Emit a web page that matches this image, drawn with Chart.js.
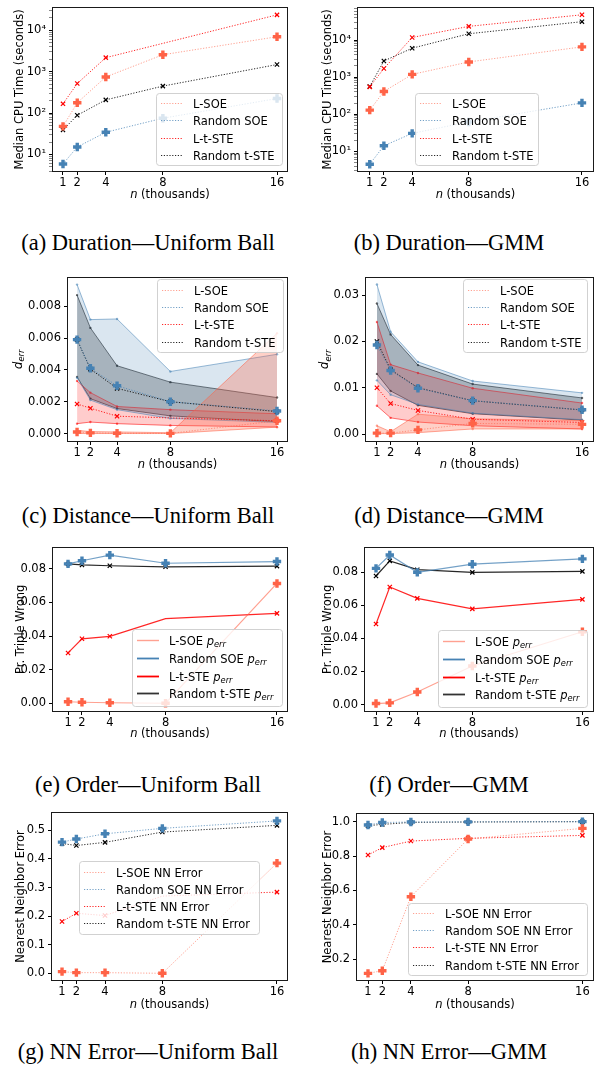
<!DOCTYPE html>
<html>
<head>
<meta charset="utf-8">
<script src="https://cdn.jsdelivr.net/npm/chart.js@4.4.0/dist/chart.umd.min.js"></script>
<style>
body{margin:0;background:#fff;width:602px;height:1066px;position:relative;overflow:hidden}
canvas{position:absolute}
.cap{position:absolute;width:300px;text-align:center;font:22.5px "Liberation Serif";line-height:1;color:#000;white-space:nowrap}
</style>
</head>
<body>
<canvas id="pa" width="300" height="210" style="left:0;top:0"></canvas>
<canvas id="pb" width="302" height="210" style="left:300px;top:0"></canvas>
<canvas id="pc" width="300" height="210" style="left:0;top:270px"></canvas>
<canvas id="pd" width="302" height="210" style="left:300px;top:270px"></canvas>
<canvas id="pe" width="300" height="210" style="left:0;top:540px"></canvas>
<canvas id="pf" width="302" height="210" style="left:300px;top:540px"></canvas>
<canvas id="pg" width="300" height="215" style="left:0;top:800px"></canvas>
<canvas id="ph" width="302" height="215" style="left:300px;top:800px"></canvas>
<div class="cap" style="left:-2px;top:232px">(a) Duration—Uniform Ball</div>
<div class="cap" style="left:299px;top:232px">(b) Duration—GMM</div>
<div class="cap" style="left:-2px;top:505px">(c) Distance—Uniform Ball</div>
<div class="cap" style="left:299px;top:505px">(d) Distance—GMM</div>
<div class="cap" style="left:-2px;top:774px">(e) Order—Uniform Ball</div>
<div class="cap" style="left:299px;top:774px">(f) Order—GMM</div>
<div class="cap" style="left:-2px;top:1041px">(g) NN Error—Uniform Ball</div>
<div class="cap" style="left:299px;top:1041px">(h) NN Error—GMM</div>
<script>
// n in thousands
const nThousands = [1, 2, 4, 8, 16];

// (a)/(b) median CPU time (seconds)
const durUniLSOE  = [47.7, 177, 743, 2550, 6940];
const durUniRSOE  = [5.9, 15.2, 34.4, 75, 224];
const durUniLTSTE = [167, 516, 2170, 4800, 23400];
const durUniRTSTE = [39, 88.5, 208, 447, 1480];
const durGmmLSOE  = [129, 412, 1186, 2570, 6550];
const durGmmRSOE  = [4.5, 14.1, 30.5, 62, 202];
const durGmmLTSTE = [548, 1710, 11750, 23400, 48000];
const durGmmRTSTE = [560, 2730, 6030, 14800, 31300];

// (c) d_err, uniform ball: median / lower / upper
const distUniLSOE   = [0.0001, 0.00004, 0.00002, 0.00001, 0.0008];
const distUniLSOElo = [0, 0, 0, 0, 0.0004];
const distUniLSOEhi = [0.0002, 0.00012, 0.0001, 0.00005, 0.0063];
const distUniRSOE   = [0.0059, 0.0041, 0.0030, 0.0020, 0.00142];
const distUniRSOElo = [0.0035, 0.0021, 0.0015, 0.00095, 0.0007];
const distUniRSOEhi = [0.00936, 0.00716, 0.0072, 0.0039, 0.00498];
const distUniLTSTE   = [0.00186, 0.00159, 0.00109, 0.00098, 0.0008];
const distUniLTSTElo = [0.00062, 0.00072, 0.00062, 0.00051, 0.00041];
const distUniLTSTEhi = [0.0033, 0.00257, 0.0017, 0.0015, 0.00124];
const distUniRTSTE   = [0.0059, 0.00405, 0.00284, 0.0020, 0.00138];
const distUniRTSTElo = [0.00356, 0.00219, 0.00157, 0.00111, 0.00074];
const distUniRTSTEhi = [0.0087, 0.00664, 0.00426, 0.00323, 0.00226];

// (d) d_err, GMM
const distGmmLSOE   = [0.0002, 0.0002, 0.0009, 0.0023, 0.0021];
const distGmmLSOElo = [0.0001, 0.0001, 0.0003, 0.0011, 0.0011];
const distGmmLSOEhi = [0.0018, 0.0005, 0.0043, 0.0033, 0.0029];
const distGmmRSOE   = [0.01925, 0.01373, 0.0099, 0.00722, 0.00524];
const distGmmRSOElo = [0.0116, 0.0085, 0.0064, 0.0045, 0.0031];
const distGmmRSOEhi = [0.0323, 0.0221, 0.0156, 0.01146, 0.0089];
const distGmmLTSTE   = [0.0100, 0.0066, 0.0051, 0.0032, 0.0025];
const distGmmLTSTElo = [0.0061, 0.0035, 0.0026, 0.0018, 0.0011];
const distGmmLTSTEhi = [0.0242, 0.0150, 0.0132, 0.0099, 0.0067];
const distGmmRTSTE   = [0.0200, 0.0139, 0.0100, 0.0072, 0.0052];
const distGmmRTSTElo = [0.0130, 0.0093, 0.0062, 0.0044, 0.0030];
const distGmmRTSTEhi = [0.0282, 0.0215, 0.0149, 0.0108, 0.0078];

// (e)/(f) probability a triple is wrong
const ordUniLSOE  = [0.0010, 0.0007, 0.0004, 0.0001, 0.0713];
const ordUniRSOE  = [0.0829, 0.0848, 0.0881, 0.0833, 0.0843];
const ordUniLTSTE = [0.0300, 0.0384, 0.0399, 0.0504, 0.0535];
const ordUniRTSTE = [0.0829, 0.0823, 0.0818, 0.0812, 0.0816];
const ordGmmLSOE  = [0.0008, 0.0012, 0.0077, 0.0234, 0.0440];
const ordGmmRSOE  = [0.0822, 0.0902, 0.0798, 0.0847, 0.0879];
const ordGmmLTSTE = [0.0487, 0.0710, 0.0641, 0.0578, 0.0635];
const ordGmmRTSTE = [0.0776, 0.0867, 0.0814, 0.0798, 0.0804];

// (g)/(h) nearest neighbour error
const nnUniLSOE  = [0.0058, 0.0023, 0.0023, 0.0, 0.3855];
const nnUniRSOE  = [0.459, 0.4696, 0.488, 0.507, 0.533];
const nnUniLTSTE = [0.181, 0.210, 0.202, 0.27, 0.284];
const nnUniRTSTE = [0.454, 0.447, 0.458, 0.494, 0.5175];
const nnGmmLSOE  = [0.1165, 0.132, 0.563, 0.899, 0.961];
const nnGmmRSOE  = [0.981, 0.995, 0.998, 0.999, 1.0];
const nnGmmLTSTE = [0.806, 0.849, 0.887, 0.903, 0.920];
const nnGmmRTSTE = [0.977, 0.984, 0.996, 0.998, 1.0];

// tick labels
const xTicks = [1, 2, 4, 8, 16];
const logMajor = [10, 100, 1000, 10000];
const distUniTicks = [0, 0.002, 0.004, 0.006, 0.008];
const distGmmTicks = [0, 0.01, 0.02, 0.03];
const ordTicks = [0, 0.02, 0.04, 0.06, 0.08];
const nnUniTicks = [0, 0.1, 0.2, 0.3, 0.4, 0.5];
const nnGmmTicks = [0.2, 0.4, 0.6, 0.8, 1.0];

const FONT = 'DejaVu Sans';
const STY = {
  lsoe:  {color: '#ff6347', rgb: '255,99,71',  line: 'rgba(255,99,71,0.6)',  p: true},
  rsoe:  {color: '#4682b4', rgb: '70,130,180', line: 'rgba(70,130,180,0.75)', p: true},
  ltste: {color: '#ff0000', rgb: '255,0,0',    line: 'rgba(255,0,0,0.85)',   p: false},
  rtste: {color: '#000000', rgb: '0,0,0',      line: 'rgba(0,0,0,0.85)',     p: false},
};
const DOT = [1.2, 1.6];
const SUP = {1: '¹', 2: '²', 3: '³', 4: '⁴'};

function pts(ys) { return ys.map((y, i) => ({x: nThousands[i], y})); }

function med(ys, key, dotted, hide8) {
  const s = STY[key];
  const r = s.p ? 4.2 : 3;
  return {
    data: pts(ys), order: 0, fill: false, tension: 0,
    borderColor: s.line, borderWidth: dotted ? 1 : 1.2, borderDash: dotted ? DOT : [],
    pointStyle: s.p ? 'cross' : 'crossRot',
    pointRadius: hide8 ? ys.map((_, i) => i === 3 ? 0 : r) : r,
    pointBorderWidth: s.p ? 3.4 : 1.2,
    pointBorderColor: s.color, pointBackgroundColor: s.color
  };
}

function band(lo, hi, key, a) {
  const s = STY[key];
  const edge = {
    order: 1, tension: 0, borderWidth: 1, borderColor: 'rgba(' + s.rgb + ',0.55)',
    pointStyle: 'circle', pointRadius: 1.2, pointBorderWidth: 0,
    pointBackgroundColor: 'rgba(' + s.rgb + ',0.6)'
  };
  return [
    Object.assign({data: pts(lo), fill: false}, edge),
    Object.assign({data: pts(hi), fill: '-1', backgroundColor: 'rgba(' + s.rgb + ',' + a + ')'}, edge)
  ];
}

function logTicks(min, max) {
  const t = [];
  [1, 10, 100, 1000, 10000].forEach(d => {
    for (let m = 1; m < 10; m++) {
      const v = d * m;
      if (v >= min && v <= max) t.push({value: v, major: logMajor.includes(v)});
    }
  });
  return t;
}

function segFont(s, size) {
  return (s.it ? 'italic ' : '') + (s.sub ? size * 0.72 : size) + 'px "' + FONT + '"';
}
function drawRich(ctx, segs, x, y, size, center) {
  if (typeof segs === 'string') segs = [{t: segs}];
  let w = 0;
  segs.forEach(s => { ctx.font = segFont(s, size); w += ctx.measureText(s.t).width; });
  let cx = center ? x - w / 2 : x;
  const base = y + size * 0.36;
  ctx.fillStyle = '#000';
  ctx.textAlign = 'left';
  ctx.textBaseline = 'alphabetic';
  segs.forEach(s => {
    ctx.font = segFont(s, size);
    ctx.fillText(s.t, cx, base + (s.sub ? size * 0.22 : 0));
    cx += ctx.measureText(s.t).width;
  });
}

function deco(o) {
  return {
    id: 'deco',
    afterDraw(chart) {
      const ctx = chart.ctx, a = chart.chartArea, L = o.legend;
      ctx.save();
      // legend box
      const r = 3, x = L.x + 0.5, y = L.y + 0.5, w = L.w, h = L.h;
      ctx.beginPath();
      ctx.moveTo(x + r, y); ctx.arcTo(x + w, y, x + w, y + h, r); ctx.arcTo(x + w, y + h, x, y + h, r);
      ctx.arcTo(x, y + h, x, y, r); ctx.arcTo(x, y, x + w, y, r); ctx.closePath();
      ctx.fillStyle = 'rgba(255,255,255,0.8)'; ctx.fill();
      ctx.strokeStyle = 'rgba(204,204,204,0.9)'; ctx.lineWidth = 1; ctx.stroke();
      L.items.forEach((it, i) => {
        const yy = Math.round(L.y + L.r0 + i * L.dy) + 0.5;
        ctx.beginPath();
        ctx.setLineDash(it.dash ? DOT : []);
        ctx.strokeStyle = it.color; ctx.lineWidth = it.w || 1;
        ctx.moveTo(L.x + 5, yy); ctx.lineTo(L.x + 27, yy); ctx.stroke();
        ctx.setLineDash([]);
        drawRich(ctx, it.label, L.x + 37, yy, 11.5, false);
      });
      // frame
      ctx.strokeStyle = '#1a1a1a'; ctx.lineWidth = 1;
      ctx.strokeRect(Math.round(a.left) - 0.5, Math.round(a.top) - 0.5,
        Math.round(a.right - a.left) + 1, Math.round(a.bottom - a.top) + 1);
      // axis titles
      drawRich(ctx, [{t: 'n', it: true}, {t: ' (thousands)'}], (a.left + a.right) / 2, o.xTitleY, 11.5, true);
      ctx.translate(o.yTitleX, (a.top + a.bottom) / 2);
      ctx.rotate(-Math.PI / 2);
      drawRich(ctx, o.yTitle, 0, 0, 11.5, true);
      ctx.restore();
    }
  };
}

function panel(id, o) {
  const tickFont = {family: FONT, size: 11.5};
  const grid = {
    drawOnChartArea: false, drawTicks: true, tickLength: 4,
    tickColor: c => (c.tick && c.tick.major === false) ? '#555' : '#000',
    tickWidth: c => (c.tick && c.tick.major === false) ? 0.7 : 1
  };
  const noPad = s => { s.paddingTop = 0; s.paddingBottom = 0; s.paddingLeft = 0; s.paddingRight = 0; };
  return new Chart(document.getElementById(id), {
    type: 'line',
    data: {datasets: o.datasets},
    options: {
      responsive: false, animation: false, devicePixelRatio: 1,
      layout: {padding: {left: 0, right: o.padR, top: o.padT, bottom: 0}},
      plugins: {legend: {display: false}, tooltip: {enabled: false}},
      scales: {
        x: {
          type: 'linear', min: o.xmin, max: o.xmax,
          afterBuildTicks: s => { s.ticks = xTicks.map(v => ({value: v, major: true})); },
          afterFit: s => { s.height = o.xh; noPad(s); },
          grid: grid, border: {display: false},
          ticks: {font: tickFont, color: '#000', padding: 1, autoSkip: false, maxRotation: 0,
                  callback: v => String(v)}
        },
        y: {
          type: o.log ? 'logarithmic' : 'linear', min: o.ymin, max: o.ymax,
          afterBuildTicks: s => {
            s.ticks = o.log ? logTicks(o.ymin, o.ymax) : o.yTicks.map(v => ({value: v, major: true}));
          },
          afterFit: s => { s.width = o.yw; noPad(s); },
          grid: grid, border: {display: false},
          ticks: {
            font: tickFont, color: '#000', padding: 3, autoSkip: false,
            callback: (v, i, t) => {
              if (o.log) return t[i].major ? '10' + SUP[Math.round(Math.log10(v))] : '';
              return v.toFixed(o.dec);
            }
          }
        }
      }
    },
    plugins: [deco(o)]
  });
}

const dotLegend = (suffix) => [
  {label: 'L-SOE' + suffix, color: STY.lsoe.line, dash: true},
  {label: 'Random SOE' + suffix, color: STY.rsoe.line, dash: true},
  {label: 'L-t-STE' + suffix, color: STY.ltste.line, dash: true},
  {label: 'Random t-STE' + suffix, color: STY.rtste.line, dash: true}
];
const perr = [{t: 'p', it: true}, {t: 'err', it: true, sub: true}];
const ordLegend = [
  {label: [{t: 'L-SOE '}].concat(perr), color: STY.lsoe.line, w: 1.4},
  {label: [{t: 'Random SOE '}].concat(perr), color: STY.rsoe.color, w: 1.8},
  {label: [{t: 'L-t-STE '}].concat(perr), color: STY.ltste.color, w: 1.8},
  {label: [{t: 'Random t-STE '}].concat(perr), color: '#333', w: 1.8}
];
const derr = [{t: 'd', it: true}, {t: 'err', it: true, sub: true}];

panel('pa', {
  log: true, ymin: 4.0, ymax: 35000, xmin: 0.30, xmax: 16.70,
  yw: 53, padR: 13, padT: 5, xh: 39, xTitleY: 194, yTitleX: 19,
  yTitle: 'Median CPU Time (seconds)',
  legend: {x: 156, y: 93, w: 126, h: 72, r0: 10, dy: 17.4, items: dotLegend('')},
  datasets: [
    med(durUniLSOE, 'lsoe', true), med(durUniRSOE, 'rsoe', true),
    med(durUniLTSTE, 'ltste', true, true), med(durUniRTSTE, 'rtste', true)
  ]
});

panel('pb', {
  log: true, ymin: 2.95, ymax: 75000, xmin: 0.17, xmax: 16.78,
  yw: 58, padR: 9, padT: 5, xh: 39, xTitleY: 194, yTitleX: 27,
  yTitle: 'Median CPU Time (seconds)',
  legend: {x: 115, y: 93, w: 123, h: 72, r0: 10, dy: 17.4, items: dotLegend('')},
  datasets: [
    med(durGmmLSOE, 'lsoe', true), med(durGmmRSOE, 'rsoe', true),
    med(durGmmLTSTE, 'ltste', true), med(durGmmRTSTE, 'rtste', true)
  ]
});

panel('pc', {
  ymin: -0.00047, ymax: 0.0098, yTicks: distUniTicks, dec: 3, xmin: 0.32, xmax: 16.75,
  yw: 68, padR: 13, padT: 5, xh: 39, xTitleY: 194, yTitleX: 17.5, yTitle: derr,
  legend: {x: 157, y: 9, w: 126, h: 73, r0: 11, dy: 17.2, items: dotLegend('')},
  datasets: [
    med(distUniLSOE, 'lsoe', true), med(distUniRSOE, 'rsoe', true),
    med(distUniLTSTE, 'ltste', true, true), med(distUniRTSTE, 'rtste', true)
  ].concat(
    band(distUniLSOElo, distUniLSOEhi, 'lsoe', 0.3),
    band(distUniRSOElo, distUniRSOEhi, 'rsoe', 0.2),
    band(distUniLTSTElo, distUniLTSTEhi, 'ltste', 0.2),
    band(distUniRTSTElo, distUniRTSTEhi, 'rtste', 0.25)
  )
});

panel('pd', {
  ymin: -0.0015, ymax: 0.0338, yTicks: distGmmTicks, dec: 2, xmin: 0.2, xmax: 16.8,
  yw: 66, padR: 9, padT: 5, xh: 39, xTitleY: 194, yTitleX: 24, yTitle: derr,
  legend: {x: 163, y: 9, w: 124, h: 73, r0: 11, dy: 17.2, items: dotLegend('')},
  datasets: [
    med(distGmmLSOE, 'lsoe', true), med(distGmmRSOE, 'rsoe', true),
    med(distGmmLTSTE, 'ltste', true), med(distGmmRTSTE, 'rtste', true)
  ].concat(
    band(distGmmLSOElo, distGmmLSOEhi, 'lsoe', 0.3),
    band(distGmmRSOElo, distGmmRSOEhi, 'rsoe', 0.2),
    band(distGmmLTSTElo, distGmmLTSTEhi, 'ltste', 0.2),
    band(distGmmRTSTElo, distGmmRTSTEhi, 'rtste', 0.25)
  )
});

panel('pe', {
  ymin: -0.0045, ymax: 0.0926, yTicks: ordTicks, dec: 2, xmin: -0.08, xmax: 16.72,
  yw: 53, padR: 13, padT: 4, xh: 39, xTitleY: 193, yTitleX: 20, yTitle: 'Pr. Triple Wrong',
  legend: {x: 132, y: 89, w: 150, h: 77, r0: 11, dy: 17.8, items: ordLegend},
  datasets: [
    med(ordUniLSOE, 'lsoe', false), med(ordUniRSOE, 'rsoe', false),
    med(ordUniLTSTE, 'ltste', false, true), med(ordUniRTSTE, 'rtste', false)
  ]
});

panel('pf', {
  ymin: -0.0037, ymax: 0.0947, yTicks: ordTicks, dec: 2, xmin: 0.2, xmax: 16.77,
  yw: 65, padR: 9, padT: 4, xh: 39, xTitleY: 193, yTitleX: 27, yTitle: 'Pr. Triple Wrong',
  legend: {x: 138, y: 90, w: 149, h: 77, r0: 11, dy: 17.8, items: ordLegend},
  datasets: [
    med(ordGmmLSOE, 'lsoe', false), med(ordGmmRSOE, 'rsoe', false),
    med(ordGmmLTSTE, 'ltste', false), med(ordGmmRTSTE, 'rtste', false)
  ]
});

panel('pg', {
  ymin: -0.0234, ymax: 0.5607, yTicks: nnUniTicks, dec: 1, xmin: 0.30, xmax: 16.7,
  yw: 52, padR: 13, padT: 13, xh: 35, xTitleY: 204, yTitleX: 20, yTitle: 'Nearest Neighbor Error',
  legend: {x: 79, y: 61, w: 180, h: 73, r0: 10.5, dy: 17.2, items: dotLegend(' NN Error')},
  datasets: [
    med(nnUniLSOE, 'lsoe', true), med(nnUniRSOE, 'rsoe', true),
    med(nnUniLTSTE, 'ltste', true, true), med(nnUniRTSTE, 'rtste', true)
  ]
});

panel('ph', {
  ymin: 0.0777, ymax: 1.0447, yTicks: nnGmmTicks, dec: 1, xmin: 0.23, xmax: 16.74,
  yw: 57, padR: 9, padT: 14, xh: 35, xTitleY: 204, yTitleX: 27, yTitle: 'Nearest Neighbor Error',
  legend: {x: 108, y: 103, w: 179, h: 72, r0: 10, dy: 17.2, items: dotLegend(' NN Error')},
  datasets: [
    med(nnGmmLSOE, 'lsoe', true), med(nnGmmRSOE, 'rsoe', true),
    med(nnGmmLTSTE, 'ltste', true), med(nnGmmRTSTE, 'rtste', true)
  ]
});
</script>
</body>
</html>
